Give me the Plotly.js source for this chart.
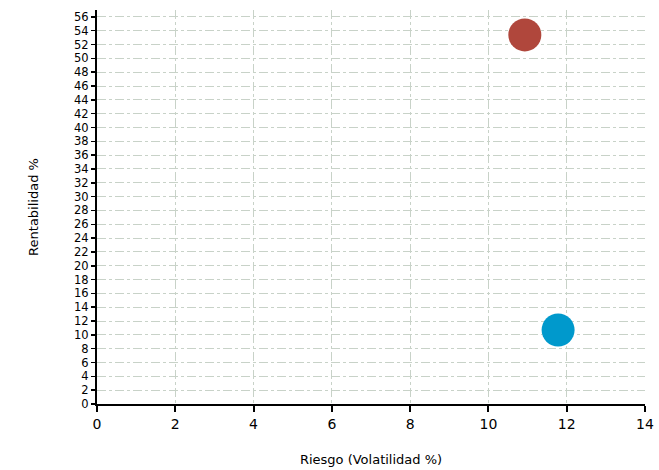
<!DOCTYPE html>
<html><head><meta charset="utf-8">
<script src="https://cdn.plot.ly/plotly-3.0.1.min.js"></script>
<style>html,body{margin:0;padding:0;background:#fff;}</style>
</head><body>
<div id="chart" style="width:659px;height:470px;"></div>
<script>
var riesgo = [10.93, 11.78];
var rentabilidad = [53.4, 10.7];
var colores = ['#B0473C', '#0099CC'];
var yTicks = [];
for (var v = 0; v <= 56; v += 2) yTicks.push(v);
var xTicks = [0, 2, 4, 6, 8, 10, 12, 14];

var trace = {
  x: riesgo, y: rentabilidad, type: 'scatter', mode: 'markers',
  marker: {color: colores, size: 33, line: {width: 0}},
  hoverinfo: 'none', showlegend: false
};
var layout = {
  width: 659, height: 470,
  margin: {l: 97, r: 14, t: 10, b: 66},
  paper_bgcolor: '#fff', plot_bgcolor: '#fff',
  font: {family: 'DejaVu Sans, Verdana, sans-serif', color: '#000'},
  xaxis: {
    range: [0, 14], tickvals: xTicks, ticktext: xTicks.map(String),
    showline: true, linecolor: '#000', linewidth: 2,
    ticks: 'outside', ticklen: 6, tickwidth: 2, tickcolor: '#000',
    showgrid: true, gridcolor: '#c8d2c8', griddash: 'dashdot', gridwidth: 1,
    zeroline: false, tickfont: {size: 14}, fixedrange: true,
    title: {text: 'Riesgo (Volatilidad %)', font: {size: 13}, standoff: 24}
  },
  yaxis: {
    range: [0, 57], tickvals: yTicks, ticktext: yTicks.map(String),
    showline: true, linecolor: '#000', linewidth: 2,
    ticks: 'outside', ticklen: 4, tickwidth: 1.5, tickcolor: '#000',
    showgrid: true, gridcolor: '#c8d2c8', griddash: 'dashdot', gridwidth: 1,
    zeroline: false, tickfont: {size: 11.5}, fixedrange: true,
    title: {text: 'Rentabilidad %', font: {size: 13}, standoff: 33}
  }
};
Plotly.newPlot('chart', [trace], layout, {displayModeBar: false, staticPlot: true});
</script>
</body></html>
